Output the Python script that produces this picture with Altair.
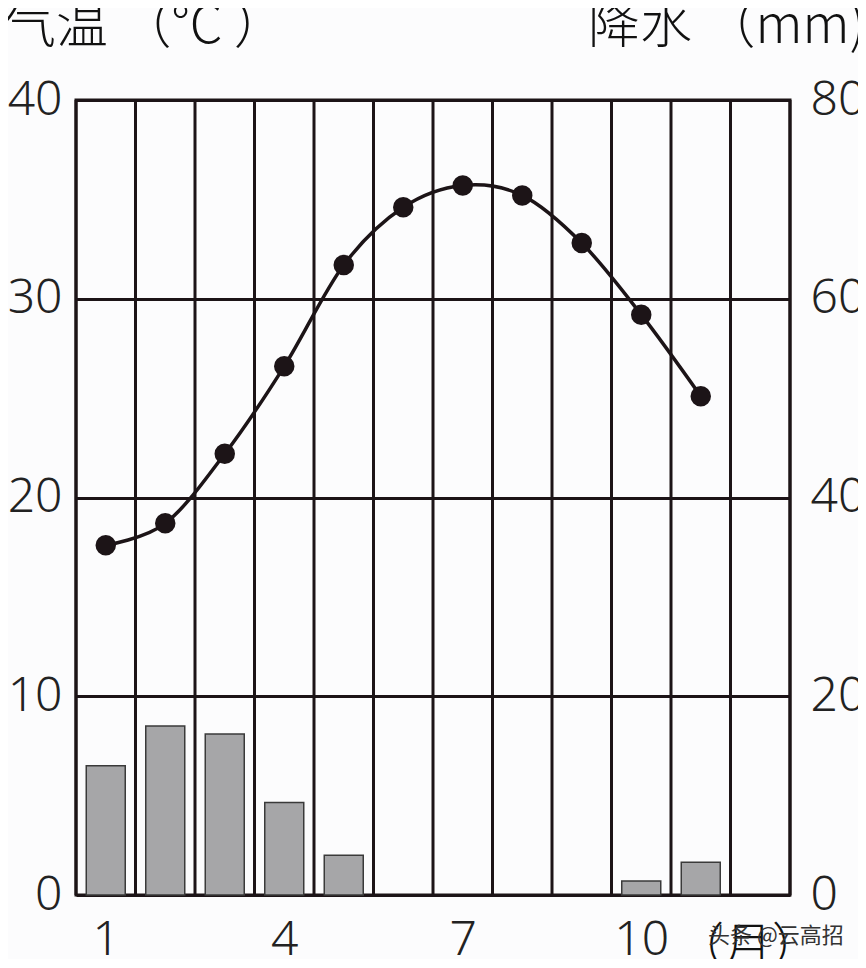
import altair as alt
import pandas as pd

months = list(range(1, 13))
temperature = [17.6, 18.7, 22.2, 26.6, 31.7, 34.6, 35.7, 35.2, 32.8, 29.2, 25.1, None]
precipitation = [13.0, 17.0, 16.2, 9.3, 4.0, 0, 0, 0, 0, 1.4, 3.3, 0]
x_tick_labels = [1, 4, 7, 10]
temp_ticks = [0, 10, 20, 30, 40]
precip_ticks = [0, 20, 40, 60, 80]

INK = "#1c1417"
BG = "#fcfcfd"
LABEL_FONT = "Noto Sans"
CJK_FONT = "Noto Sans CJK SC"

df = pd.DataFrame({"month": months, "temp": temperature, "precip": precipitation})
temp_df = df.dropna(subset=["temp"])
bar_df = df[df["precip"] > 0]
bounds = pd.DataFrame({"b": [m - 0.5 for m in months] + [months[-1] + 0.5]})

xscale = alt.Scale(domain=[0.5, 12.5], nice=False, zero=False, padding=0)
xaxis = alt.Axis(values=x_tick_labels, grid=False, domain=False, ticks=False,
                 labelFontSize=48, labelFont=LABEL_FONT, labelFontWeight=300,
                 labelColor="#222", labelPadding=21, title=None)

vgrid = alt.Chart(bounds).mark_rule(color=INK, strokeWidth=3).encode(
    x=alt.X("b:Q", scale=xscale, axis=xaxis)
)

bars = alt.Chart(bar_df).mark_bar(size=39, color="#a6a6a8", stroke="#3a3a3a", strokeWidth=1.5).encode(
    x=alt.X("month:Q", scale=xscale, axis=xaxis),
    y=alt.Y("precip:Q", scale=alt.Scale(domain=[0, 80], nice=False, padding=0),
            axis=alt.Axis(orient="right", values=precip_ticks, grid=False, domain=False,
                          ticks=False, labelFontSize=48, labelFont=LABEL_FONT,
                          labelFontWeight=300, labelColor="#222", labelPadding=20,
                          labelAlign="left", title=None)),
)

tscale = alt.Scale(domain=[0, 40], nice=False)
taxis = alt.Axis(orient="left", values=temp_ticks, grid=True, gridColor=INK, gridWidth=3,
                 gridOpacity=1, domain=False, ticks=False, labelFontSize=48,
                 labelFont=LABEL_FONT, labelFontWeight=300, labelColor="#222",
                 labelPadding=14, title=None)

line = alt.Chart(temp_df).mark_line(color=INK, strokeWidth=3.5, interpolate="cardinal").encode(
    x=alt.X("month:Q", scale=xscale, axis=xaxis),
    y=alt.Y("temp:Q", scale=tscale, axis=taxis),
)
pts = alt.Chart(temp_df).mark_point(filled=True, color=INK, size=420, opacity=1).encode(
    x=alt.X("month:Q", scale=xscale, axis=xaxis),
    y=alt.Y("temp:Q", scale=tscale, axis=taxis),
)

def label(text, x, y, align, size=52, font=CJK_FONT, color="#111", weight=300):
    return alt.Chart(pd.DataFrame({"t": [text]})).mark_text(
        align=align, baseline="middle", fontSize=size, font=font, color=color, fontWeight=weight
    ).encode(text="t:N", x=alt.value(x), y=alt.value(y))

t_left = label("气温 （°C ）", -72, -73, "left")
t_right = label("降水 （mm)", 512, -73, "left")
t_month = label("（月）", 600, 848, "left", size=48)
t_mark = label("头条 @云高招", 632, 836, "left", size=22, color="#333", weight=400)

temp_layer = alt.layer(vgrid, line, pts)
chart = alt.layer(temp_layer, bars, t_left, t_right, t_month, t_mark).resolve_scale(
    y="independent"
).properties(
    width=714, height=795,
    autosize=alt.AutoSizeParams(type="none"),
    padding={"left": 68, "top": 92, "right": 68, "bottom": 64},
    background=BG,
).configure_view(stroke=INK, strokeWidth=3)

chart.save("out.html", embed_options={"renderer": "svg", "actions": False})
